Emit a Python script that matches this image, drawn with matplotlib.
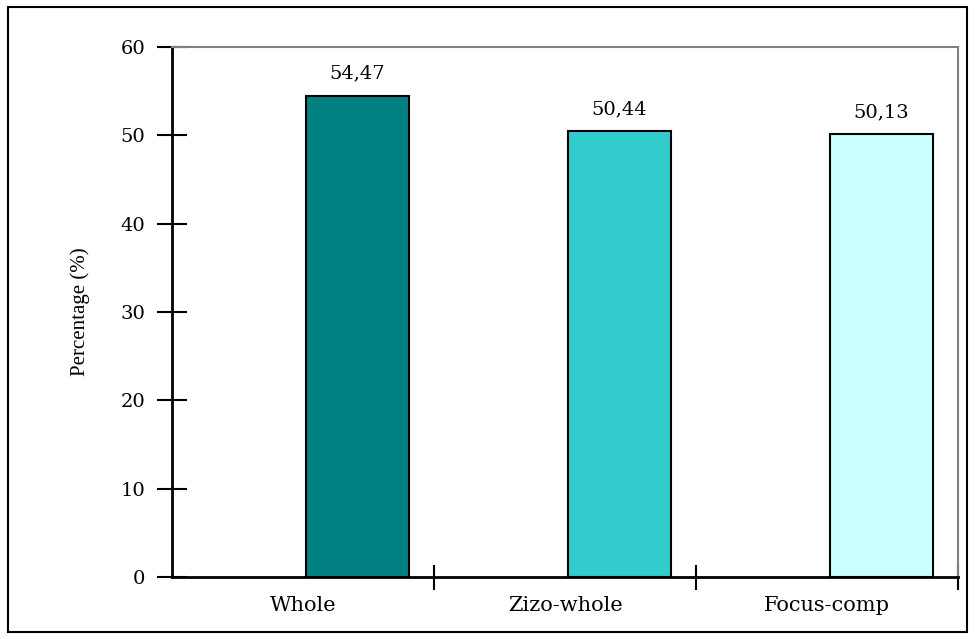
import matplotlib.pyplot as plt
import numpy as np
from matplotlib.patches import Rectangle

categories = ['Whole', 'Zizo-whole', 'Focus-comp']
values = [54.47, 50.44, 50.13]
value_labels = ['54,47', '50,44', '50,13']
bar_colors = ['#008080', '#33CCCC', '#CCFFFF']
y_ticks = [0, 10, 20, 30, 40, 50, 60]

plt.rcParams['font.family'] = ['DejaVu Serif']

fig = plt.figure(figsize=(9.76, 6.39), dpi=100)
ax = fig.add_axes([0.1762, 0.097, 0.8054, 0.8294])

x = np.arange(len(categories))
# bars sit in the right half of each category slot, as in the original
bars = ax.bar(x + 0.01, values, width=0.395, align='edge', color=bar_colors,
              edgecolor='black', linewidth=1.5, zorder=3)
for b, lab in zip(bars, value_labels):
    ax.text(b.get_x() + b.get_width() / 2, b.get_height() + 1.5, lab,
            ha='center', va='bottom', fontsize=14)

ax.set_xlim(-0.5, len(categories) - 0.5)
ax.set_ylim(0, 60)
ax.set_yticks(y_ticks)
ax.set_yticklabels([str(t) for t in y_ticks], fontsize=14)
ax.set_xticks(x)
ax.set_xticklabels(categories, fontsize=15)
ax.tick_params(axis='x', length=0, pad=14)
ax.tick_params(axis='y', direction='inout', length=22, width=1.5, pad=8)
# category boundary ticks
ax.set_xticks(np.arange(len(categories)) + 0.5, minor=True)
ax.tick_params(axis='x', which='minor', direction='inout', length=18, width=1.5)

ax.set_ylabel('Percentage (%)', fontsize=15, labelpad=22,
              family=['Liberation Serif'])

ax.spines['left'].set_linewidth(2)
ax.spines['bottom'].set_linewidth(2)
ax.spines['top'].set_color('#808080')
ax.spines['right'].set_color('#808080')
ax.spines['top'].set_linewidth(1.5)
ax.spines['right'].set_linewidth(1.5)

fig.patches.append(Rectangle((8 / 976, 7 / 639), 959 / 976, 625 / 639,
                             transform=fig.transFigure, fill=False,
                             edgecolor='black', linewidth=1.5))

fig.savefig('out.png', dpi=100)
